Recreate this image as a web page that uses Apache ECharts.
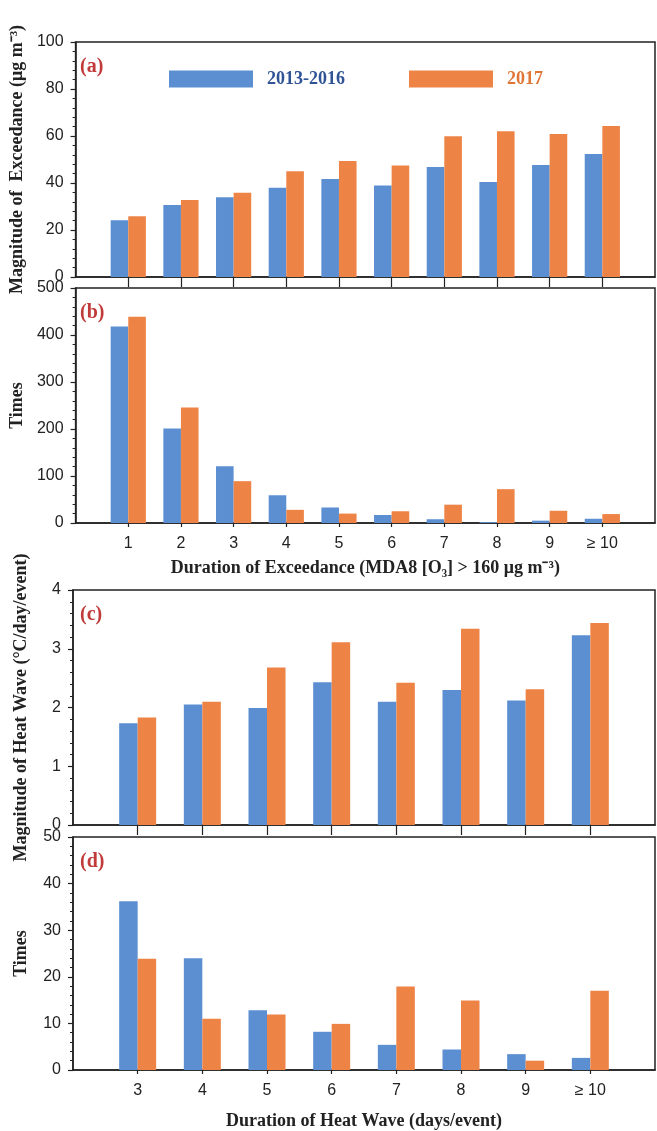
<!DOCTYPE html>
<html lang="en">
<head>
<meta charset="UTF-8">
<title>Exceedance and heat wave</title>
<style>html,body{margin:0;padding:0;background:#fff}</style>
</head>
<body>
<div id="main" style="width:657px;height:1131px"></div>
<script src="https://cdn.jsdelivr.net/npm/echarts@6.0.0/dist/echarts.min.js"></script>
<script>
// (a)(b) ozone exceedance, duration 1 .. >=10 days
var exceedCats = ['1', '2', '3', '4', '5', '6', '7', '8', '9', '≥ 10'];
var exceedPos = [1, 2, 3, 4, 5, 6, 7, 8, 9, 10];
var magExceedOld = [24.1, 30.6, 33.9, 38.0, 41.7, 38.9, 46.8, 40.4, 47.7, 52.3];
var magExceedNew = [25.8, 32.8, 35.9, 45.0, 49.4, 47.4, 59.9, 62.0, 60.9, 64.3];
var timesExceedOld = [418, 201, 121, 59, 33, 17, 8, 2, 5, 9];
var timesExceedNew = [439, 246, 89, 28, 20, 25, 39, 72, 26, 19];

// (c)(d) heat wave, duration 3 .. >=10 days
var heatCats = ['3', '4', '5', '6', '7', '8', '9', '≥ 10'];
var heatPos = [3, 4, 5, 6, 7, 8, 9, 10];
var magHeatOld = [1.73, 2.05, 1.99, 2.43, 2.10, 2.30, 2.12, 3.23];
var magHeatNew = [1.83, 2.10, 2.68, 3.11, 2.42, 3.34, 2.31, 3.44];
var timesHeatOld = [36.2, 24.0, 12.8, 8.2, 5.4, 4.4, 3.4, 2.6];
var timesHeatNew = [23.9, 11.0, 11.9, 9.9, 17.9, 14.9, 2.0, 17.0];

var seriesNames = ['2013-2016', '2017'];
var blue = '#5b8fd2';
var orange = '#ee8346';
var ink = '#222';
var serif = 'Liberation Serif';
var sans = 'Liberation Sans';

var tops = [42, 288, 590, 837];
var h = 235;

function pairs(pos, vals) {
    var res = [];
    for (var i = 0; i < pos.length; i++) res.push([pos[i], vals[i]]);
    return res;
}

function xAxis(idx, pos, cats, min, showLabel, tickLen, name, nameGap) {
    return {
        type: 'value', gridIndex: idx, min: min, max: 11, interval: 1,
        splitLine: {show: false},
        axisLine: {lineStyle: {color: ink, width: 1.5}},
        axisTick: {show: true, length: tickLen, customValues: pos, lineStyle: {color: ink, width: 1.2}},
        axisLabel: {
            show: showLabel, customValues: pos, margin: 13,
            color: ink, fontFamily: sans, fontSize: 16,
            formatter: function (v) { return cats[pos.indexOf(v)] || ''; }
        },
        name: name, nameLocation: 'middle', nameGap: nameGap,
        nameTextStyle: {color: ink, fontFamily: serif, fontWeight: 'bold', fontSize: 18}
    };
}

function yAxis(idx, max, interval, name) {
    return {
        type: 'value', gridIndex: idx, min: 0, max: max, interval: interval,
        splitLine: {show: false},
        axisLine: {show: true, lineStyle: {color: ink, width: 1.5}},
        axisTick: {show: true, length: 5, lineStyle: {color: ink, width: 1.2}},
        minorTick: {show: true, splitNumber: 5, length: 3, lineStyle: {color: ink}},
        axisLabel: {color: ink, fontFamily: sans, fontSize: 16, margin: 12},
        name: name, nameLocation: 'middle', nameRotate: 90, nameGap: 43,
        nameTextStyle: {color: ink, fontFamily: serif, fontWeight: 'bold', fontSize: 18}
    };
}

function bars(idx, name, color, pos, vals, width) {
    return {
        name: name, type: 'bar', xAxisIndex: idx, yAxisIndex: idx,
        barWidth: width, barGap: '0%',
        itemStyle: {color: color},
        data: pairs(pos, vals)
    };
}

var labels = ['(a)', '(b)', '(c)', '(d)'];
var graphics = labels.map(function (t, i) {
    return {
        type: 'text', left: 80, top: tops[i] + 15,
        style: {text: t, fill: '#c23b3b', font: 'bold 20px "Liberation Serif"'}
    };
});

var myChart = echarts.init(document.getElementById('main'));
myChart.setOption({
    backgroundColor: '#fff',
    animation: false,
    grid: tops.map(function (t) {
        return {left: 73, right: 2, top: t, height: h, show: true, borderColor: ink, borderWidth: 1.5};
    }),
    legend: {
        left: 164, top: 65, icon: 'rect', itemWidth: 84, itemHeight: 17, itemGap: 64,
        textStyle: {fontFamily: serif, fontWeight: 'bold', fontSize: 18, padding: [0, 0, 0, 9]},
        data: [
            {name: seriesNames[0], textStyle: {color: '#2f5395'}},
            {name: seriesNames[1], textStyle: {color: '#e07536'}}
        ]
    },
    graphic: graphics,
    xAxis: [
        xAxis(0, exceedPos, exceedCats, 0, false, 10, '', 0),
        xAxis(1, exceedPos, exceedCats, 0, true, 4, 'Duration of Exceedance (MDA8 [O\u2083] > 160 \u03bcg m\u207b\u00b3)', 36),
        xAxis(2, heatPos, heatCats, 2, false, 10, '', 0),
        xAxis(3, heatPos, heatCats, 2, true, 4, 'Duration of Heat Wave (days/event)', 42)
    ],
    yAxis: [
        yAxis(0, 100, 20, 'Magnitude of  Exceedance (\u03bcg m\u207b\u00b3)'),
        yAxis(1, 500, 100, 'Times'),
        yAxis(2, 4, 1, 'Magnitude of Heat Wave (\u00b0C/day/event)'),
        yAxis(3, 50, 10, 'Times')
    ],
    series: [
        bars(0, seriesNames[0], blue, exceedPos, magExceedOld, 17.6),
        bars(0, seriesNames[1], orange, exceedPos, magExceedNew, 17.6),
        bars(1, seriesNames[0], blue, exceedPos, timesExceedOld, 17.6),
        bars(1, seriesNames[1], orange, exceedPos, timesExceedNew, 17.6),
        bars(2, seriesNames[0], blue, heatPos, magHeatOld, 18.5),
        bars(2, seriesNames[1], orange, heatPos, magHeatNew, 18.5),
        bars(3, seriesNames[0], blue, heatPos, timesHeatOld, 18.5),
        bars(3, seriesNames[1], orange, heatPos, timesHeatNew, 18.5)
    ]
});
</script>
</body>
</html>
